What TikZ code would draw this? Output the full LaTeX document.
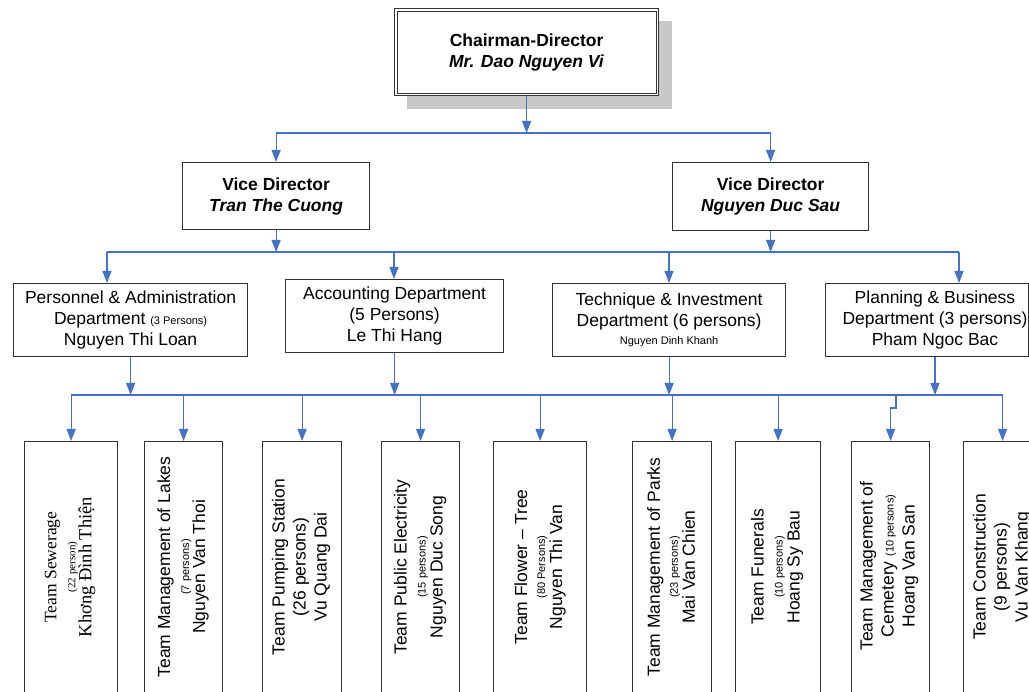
\documentclass[tikz,border=0pt]{standalone}
\usepackage{fontspec}
\setmainfont{Liberation Sans}
\newfontfamily\serifvn{Liberation Serif}
\usetikzlibrary{arrows.meta}
\definecolor{lineblue}{RGB}{68,114,196}
\definecolor{shadowgray}{RGB}{200,200,200}
\newcommand{\fmain}{\fontsize{17.5}{21}\selectfont}
\newcommand{\fsm}{\fontsize{11}{13}\selectfont}
\begin{document}
\begin{tikzpicture}[x=1pt,y=-1pt,
  box/.style={draw=black!80, line width=1.2pt, fill=white, inner sep=0pt, align=center, anchor=north west, font=\fmain},
  txt/.style={inner sep=0pt, align=center, font=\fmain},
  vtxt/.style={inner sep=0pt, align=center, font=\fmain, rotate=90},
  arr/.style={draw=lineblue, line width=1.2pt, -{Triangle[width=9pt,length=12pt]}},
  bus/.style={draw=lineblue, line width=1.2pt}
]
\fill[white] (0,0) rectangle (1029,692);
\useasboundingbox (0,0) rectangle (1029,692);

% chairman
\node[fill=shadowgray, inner sep=0pt, minimum width=265pt, minimum height=88pt, anchor=north west] (chshadow) at (407,21) {};
\node[box, minimum width=264pt, minimum height=87pt, font=\fmain\bfseries] (ch) at (394,8) {Chairman-Director\\\textit{Mr. Dao Nguyen Vi}};
\draw[black!80, line width=0.9pt] ([shift={(3,3)}]ch.north west) rectangle ([shift={(-3,-3)}]ch.south east);

% vice directors
\node[box, minimum width=187pt, minimum height=67pt, font=\fmain\bfseries] (vd1) at (182,162) {Vice Director\\\textit{Tran The Cuong}};
\node[box, minimum width=196pt, minimum height=68pt, font=\fmain\bfseries] (vd2) at (672,162) {Vice Director\\\textit{Nguyen Duc Sau}};

% departments
\node[box, minimum width=234pt, minimum height=73pt] (d1) at (13,283) {Personnel \& Administration\\Department {\fsm (3 Persons)}\\Nguyen Thi Loan};
\node[box, minimum width=218pt, minimum height=73pt] (d2) at (285,279) {Accounting Department\\(5 Persons)\\Le Thi Hang};
\node[box, minimum width=233pt, minimum height=73pt] (d3) at (552,283) {Technique \& Investment\\Department (6 persons)\\[-3pt]{\fsm Nguyen Dinh Khanh}};
\node[box, minimum width=203pt, minimum height=73pt] (d4) at (825,283) {};
\node[txt] (d4txt) at (935,320) {Planning \& Business\\Department (3 persons)\\Pham Ngoc Bac};

% teams
\node[box, minimum width=93pt, minimum height=270pt] (t1) at (24,441) {};
\node[box, minimum width=78pt, minimum height=270pt] (t2) at (144,441) {};
\node[box, minimum width=79pt, minimum height=270pt] (t3) at (262,441) {};
\node[box, minimum width=78pt, minimum height=270pt] (t4) at (381,441) {};
\node[box, minimum width=93pt, minimum height=270pt] (t5) at (493,441) {};
\node[box, minimum width=79pt, minimum height=270pt] (t6) at (632,441) {};
\node[box, minimum width=85pt, minimum height=270pt] (t7) at (735,441) {};
\node[box, minimum width=78pt, minimum height=270pt] (t8) at (851,441) {};
\node[box, minimum width=78pt, minimum height=270pt] (t9) at (963,441) {};

\node[vtxt, font=\serifvn\fontsize{17.5}{21}\selectfont] (t1txt) at (70,567) {Team Sewerage\\[-2pt]{\fontsize{11}{13}\selectfont (22 person)}\\[-5pt]{\fontsize{18.5}{21}\selectfont Khơng Đình Thiện}};
\node[vtxt] (t2txt) at (183,567) {Team Management of Lakes\\[-2pt]{\fsm (7 persons)}\\[-5pt]Nguyen Van Thoi};
\node[vtxt] (t3txt) at (301,567) {Team Pumping Station\\(26 persons)\\Vu Quang Dai};
\node[vtxt] (t4txt) at (420,567) {Team Public Electricity\\[-2pt]{\fsm (15 persons)}\\[-4pt]Nguyen Duc Song};
\node[vtxt] (t5txt) at (540,567) {Team Flower -- Tree\\[-3pt]{\fsm (80 Persons)}\\[-4pt]Nguyen Thi Van};
\node[vtxt] (t6txt) at (671,567) {Team Management of Parks\\[-3pt]{\fsm (23 persons)}\\[-4pt]Mai Van Chien};
\node[vtxt] (t7txt) at (777,567) {Team Funerals\\[-2pt]{\fsm (10 persons)}\\[-4pt]Hoang Sy Bau};
\node[vtxt] (t8txt) at (889,566) {Team Management of\\Cemetery {\fsm (10 persons)}\\Hoang Van San};
\node[vtxt] (t9txt) at (1002,567) {Team Construction\\(9 persons)\\Vu Van Khang};

% level 1 connectors
\coordinate (b1) at (527,133);
\draw[arr] (ch.south) -- (ch.south |- b1);
\draw[bus] (vd1.north |- b1) -- (vd2.north |- b1);
\draw[arr] (vd1.north |- b1) -- (vd1.north);
\draw[arr] (vd2.north |- b1) -- (vd2.north);

% level 2 connectors
\coordinate (b2) at (0,252);
\coordinate (k1) at (107,252);
\coordinate (k2) at (394,252);
\coordinate (k3) at (669,252);
\coordinate (k4) at (959,252);
\draw[arr] (vd1.south) -- (vd1.south |- b2);
\draw[arr] (vd2.south) -- (vd2.south |- b2);
\draw[bus] (k1) -- (k4);
\draw[arr] (k1) -- (k1 |- d1.north);
\draw[arr] (k2) -- (k2 |- d2.north);
\draw[arr] (k3) -- (k3 |- d3.north);
\draw[arr] (k4) -- (k4 |- d4.north);

% level 3 connectors
\coordinate (b3) at (0,395);
\coordinate (j8) at (896,395);
\draw[arr] (d1.south) -- (d1.south |- b3);
\draw[arr] (d2.south) -- (d2.south |- b3);
\draw[arr] (d3.south) -- (d3.south |- b3);
\draw[arr] (d4txt |- d4.south) -- (d4txt |- b3);
\draw[bus] (t1.north |- b3) -- (t9.north |- b3);
\draw[arr] (t1.north |- b3) -- (t1.north);
\draw[arr] (t2.north |- b3) -- (t2.north);
\draw[arr] (t3.north |- b3) -- (t3.north);
\draw[arr] (t4.north |- b3) -- (t4.north);
\draw[arr] (t5.north |- b3) -- (t5.north);
\draw[arr] (t6.north |- b3) -- (t6.north);
\draw[arr] (t7.north |- b3) -- (t7.north);
\draw[arr] (j8) -- ++(0,13) -| (t8.north);
\draw[arr] (t9.north |- b3) -- (t9.north);
\end{tikzpicture}
\end{document}
